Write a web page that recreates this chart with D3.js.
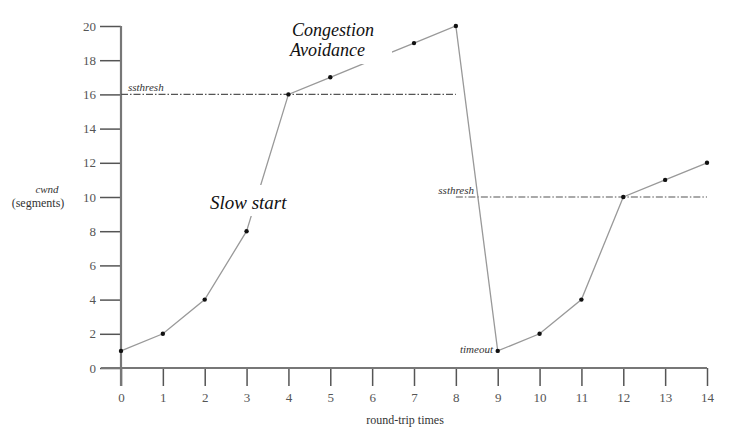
<!DOCTYPE html>
<html><head><meta charset="utf-8">
<script src="https://cdn.jsdelivr.net/npm/d3@7"></script>
<style>body{margin:0;background:#fff}svg{display:block}
svg text{font-family:"Liberation Serif","Times New Roman","DejaVu Serif",serif}
</style>
</head><body>
<svg id="c" width="739" height="439"></svg>
<script>
const rounds = [0,1,2,3,4,5,6,7,8,9,10,11,12,13,14];
const cwnd = [1,2,4,8,16,17,18,19,20,1,2,4,10,11,12];
const yTicks = [0,2,4,6,8,10,12,14,16,18,20];
const ssthresh1 = {value:16, from:0, to:8};
const ssthresh2 = {value:10, from:8, to:14};

const svg = d3.select("#c");
const x = d3.scaleLinear().domain([0,14]).range([121,707]);
const y = d3.scaleLinear().domain([0,20]).range([368,26]);

// y axis
const ya = svg.append("g").attr("transform","translate(121,0)")
  .call(d3.axisLeft(y).tickValues(yTicks).tickSize(21).tickPadding(4));
ya.attr("font-family",null);
ya.select(".domain").remove();
ya.selectAll(".tick line").attr("stroke","#555").attr("stroke-width",1.5);
ya.selectAll(".tick text").attr("font-size",13).attr("fill","#555");

// x axis
const xa = svg.append("g").attr("transform","translate(0,368)")
  .call(d3.axisBottom(x).tickValues(rounds).tickSize(18).tickPadding(7));
xa.attr("font-family",null);
xa.select(".domain").remove();
xa.selectAll(".tick line").attr("stroke","#555").attr("stroke-width",1.5);
xa.selectAll(".tick text").attr("font-size",13).attr("fill","#555");

// axis lines
svg.append("line").attr("x1",x(0)).attr("x2",x(0)).attr("y1",y(20)).attr("y2",y(0)+18)
  .attr("stroke","#777").attr("stroke-width",2.2);
svg.append("line").attr("x1",x(0)-20).attr("x2",x(14)).attr("y1",y(0)).attr("y2",y(0))
  .attr("stroke","#777").attr("stroke-width",2);

// ssthresh lines
[ssthresh1, ssthresh2].forEach(s=>{
  svg.append("line").attr("x1",x(s.from)).attr("x2",x(s.to)).attr("y1",y(s.value)).attr("y2",y(s.value))
    .attr("stroke","#555").attr("stroke-width",1.2).attr("stroke-dasharray","7,2,1.5,2");
});

// data line
const line = d3.line().x((d,i)=>x(rounds[i])).y(d=>y(d));
svg.append("path").datum(cwnd).attr("d",line).attr("fill","none").attr("stroke","#999").attr("stroke-width",1.3);
svg.selectAll("circle.pt").data(cwnd).join("circle").attr("class","pt")
  .attr("cx",(d,i)=>x(rounds[i])).attr("cy",d=>y(d)).attr("r",2.2).attr("fill","#111");

// annotation text boxes (white backgrounds)
svg.append("rect").attr("x",270).attr("y",20).attr("width",122).attr("height",44).attr("fill","#fff");
svg.append("rect").attr("x",205).attr("y",185).attr("width",90).attr("height",31).attr("fill","#fff");

const ital = (t,xx,yy,size,anchor,fill)=>svg.append("text").attr("x",xx).attr("y",yy).text(t)
  .attr("font-style","italic").attr("font-size",size)
  .attr("text-anchor",anchor||"start").attr("fill",fill||"#111");

ital("Congestion",292,36,18);
ital("Avoidance",290,56,18);
ital("Slow start",210,209,19);
ital("ssthresh",128,91,11,"start","#333");
ital("ssthresh",474,194,11,"end","#333");
ital("timeout",493,353,11,"end","#333");
ital("cwnd",47,193,11,"middle","#333");

svg.append("text").attr("x",38).attr("y",207).text("(segments)")
  .attr("font-size",12).attr("text-anchor","middle").attr("fill","#333");
svg.append("text").attr("x",405).attr("y",424).text("round-trip times")
  .attr("font-size",12).attr("text-anchor","middle").attr("fill","#333");
</script>
</body></html>
